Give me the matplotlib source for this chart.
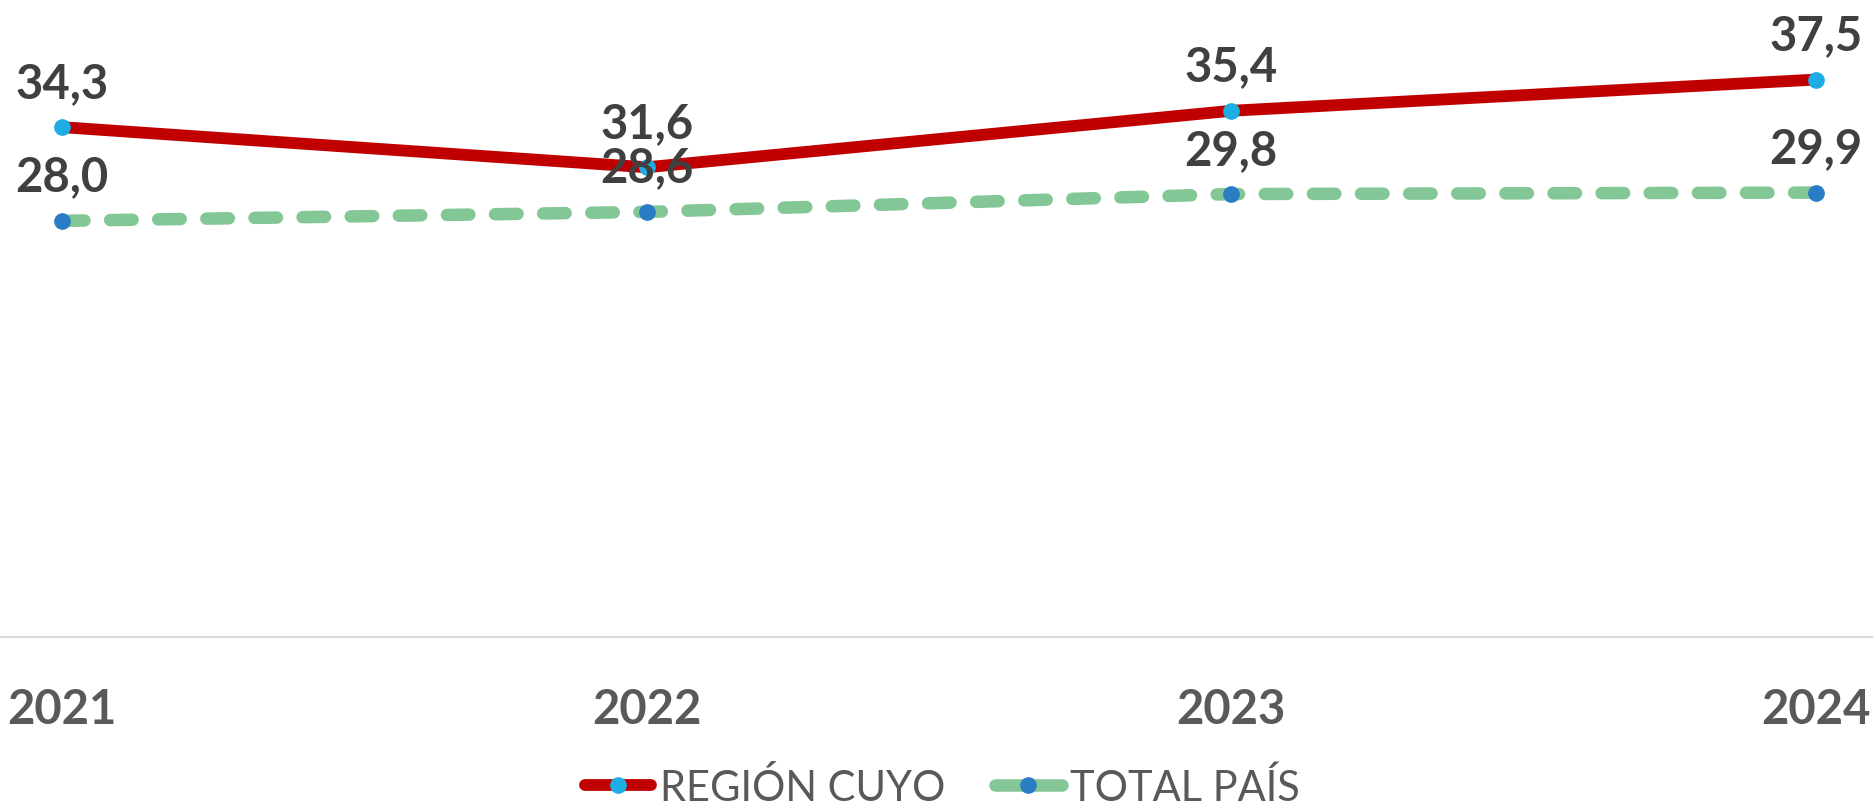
import numpy as np
import matplotlib.pyplot as plt
from matplotlib.lines import Line2D

years = ['2021', '2022', '2023', '2024']
region_cuyo = [34.3, 31.6, 35.4, 37.5]
total_pais = [28.0, 28.6, 29.8, 29.9]
names = ['REGIÓN CUYO', 'TOTAL PAÍS']

plt.rcParams['font.family'] = ['Lato', 'DejaVu Sans']

fig = plt.figure(figsize=(18.73, 8.12), dpi=100)
ax = fig.add_axes([0.0, 0.214, 1.0, 0.739])

x = np.arange(len(years))

red = '#C00000'
green = '#82C795'
lblue = '#1DADE4'
dblue = '#2A7DC4'

ln2, = ax.plot(x, total_pais, color=green, lw=9, dashes=(1.8, 2.05),
               dash_capstyle='round', solid_capstyle='round',
               marker='o', ms=11, mfc=dblue, mec=dblue, zorder=2)
ln1, = ax.plot(x, region_cuyo, color=red, lw=8.5, solid_capstyle='round',
               marker='o', ms=11, mfc=lblue, mec=lblue, zorder=3)

for xi, v in zip(x, total_pais):
    ax.annotate(f'{v:.1f}'.replace('.', ','), (xi, v), xytext=(0, 32),
                textcoords='offset points', ha='center', va='center',
                fontsize=34, fontweight='bold', color='#404040', zorder=5)
for xi, v in zip(x, region_cuyo):
    ax.annotate(f'{v:.1f}'.replace('.', ','), (xi, v), xytext=(0, 32),
                textcoords='offset points', ha='center', va='center',
                fontsize=34, fontweight='bold', color='#404040', zorder=5)

ax.set_xlim(-0.106, 3.0975)
ax.set_ylim(0, 40.35)
ax.set_yticks([])
ax.set_xticks(x)
ax.set_xticklabels(years, fontsize=34, fontweight='bold', color='#595959')
ax.tick_params(axis='x', length=0, pad=36)
for s in ['top', 'left', 'right']:
    ax.spines[s].set_visible(False)
ax.spines['bottom'].set_color('#D9D9D9')
ax.spines['bottom'].set_linewidth(1.5)

h1 = Line2D([], [], color=red, lw=8.5, solid_capstyle='round',
            marker='o', ms=11, mfc=lblue, mec=lblue)
h2 = Line2D([], [], color=green, lw=9, solid_capstyle='round',
            marker='o', ms=11, mfc=dblue, mec=dblue)
leg = fig.legend([h1, h2], names, loc='center', bbox_to_anchor=(0.503, 0.03),
                 ncol=2, frameon=False, fontsize=30, handlelength=1.6,
                 handletextpad=0.2, columnspacing=1.2, labelcolor='#595959')

fig.savefig('out.png', dpi=100)
